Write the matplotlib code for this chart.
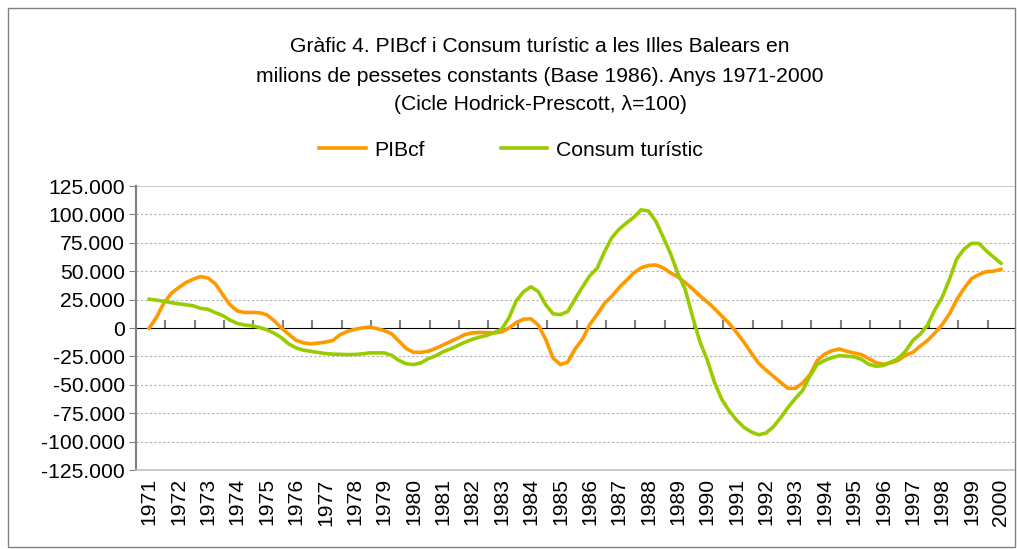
import numpy as np
import matplotlib
matplotlib.use("Agg")
import matplotlib.pyplot as plt
from matplotlib.patches import Rectangle

plt.rcParams['font.family'] = ['Liberation Sans', 'DejaVu Sans']

# Dades trimestrals 1971T1 - 2000T1 (cicle Hodrick-Prescott)
anys = list(range(1971, 2001))
pib = [0, 9500, 22000, 30500,
       35500, 40000, 43000, 45300,
       44000, 39000, 29500, 20500,
       15000, 13700, 13700, 13500,
       11700, 6500, 0, -5500,
       -10800, -13000, -14000, -13300,
       -12400, -11000, -5900, -3000,
       -1200, 0, 900, -500,
       -2300, -5000, -11500, -18000,
       -21400, -21400, -20500, -18000,
       -15000, -12000, -9000, -5800,
       -4300, -3900, -4000, -4300,
       -3500, 0, 4800, 7800,
       8000, 2500, -10000, -26500,
       -32200, -30000, -18500, -10000,
       3000, 12000, 21500, 28000,
       35500, 42000, 48500, 53000,
       55000, 55500, 53000, 48500,
       45000, 40000, 34500, 28300,
       23000, 17000, 10500, 4000,
       -4000, -12500, -22000, -31000,
       -37000, -42400, -48000, -53000,
       -53200, -48500, -41000, -28500,
       -23000, -20000, -18500, -20500,
       -22000, -23400, -27000, -30500,
       -32000, -30700, -28500, -24000,
       -21500, -16000, -11000, -4500,
       3000, 12500, 25000, 35000,
       43500, 47000, 49600, 50000,
       51700]
consum = [25400, 24500, 23500, 22300,
          21300, 20500, 19500, 17300,
          16500, 13500, 11000, 7000,
          4000, 2600, 2000, 500,
          -1500, -4500, -8500, -14000,
          -17500, -19500, -20500, -21500,
          -22500, -23000, -23200, -23400,
          -23300, -22800, -21900, -21900,
          -21900, -24000, -28500, -31500,
          -32200, -30700, -27000, -24500,
          -21000, -18500, -15500, -12500,
          -10000, -8000, -6500, -4000,
          -1000, 9000, 24000, 32000,
          36300, 32000, 20500, 12500,
          11800, 14500, 25500, 36000,
          46000, 52500, 67000, 79500,
          87000, 92500, 97500, 104000,
          103000, 94000, 80000, 65500,
          48000, 34000, 10000, -12000,
          -28000, -48000, -63000, -73000,
          -81000, -87500, -91500, -94000,
          -92500, -87000, -79000, -70000,
          -62000, -55000, -42000, -32000,
          -28500, -26000, -24300, -24800,
          -25400, -27500, -32000, -33700,
          -33000, -30000, -27000, -20500,
          -11000, -5500, 2500, 16000,
          27000, 43000, 61000, 69500,
          74500, 74500, 68000, 62500,
          57000]
t = 1971 + np.arange(len(pib)) / 4.0

fs = 15.2
fig = plt.figure(figsize=(10.17, 5.49), dpi=100)
ax = fig.add_axes([136 / 1017, 1 - 470 / 549, 879 / 1017, 284 / 549])

ax.set_ylim(-125000, 125000)
ax.set_xlim(1970.55, 2000.48)
yt = np.arange(-125000, 125001, 25000)
ax.set_yticks(yt)
ax.set_yticklabels([f"{v:,}".replace(",", ".") for v in yt], fontsize=fs)
for v in yt[1:-1]:
    if v != 0:
        ax.axhline(v, color="#b0b0b0", lw=0.8, ls=(0, (2, 2)), zorder=0)
ax.axhline(125000, color="#c0c0c0", lw=1.2, zorder=0)

ax.plot(t, pib, color="#FF9900", lw=2.6, label="PIBcf", zorder=3)
ax.plot(t, consum, color="#99CC00", lw=2.6, label="Consum turístic", zorder=4)

ax.set_xticks(anys)
ax.set_xticklabels([str(a) for a in anys], rotation=90, fontsize=fs)
ax.tick_params(axis="x", length=0, pad=6)
ax.tick_params(axis="y", length=5, color="#808080", direction="out", pad=3)

for s in ["top", "right"]:
    ax.spines[s].set_visible(False)
ax.spines["left"].set_color("#808080")
ax.spines["left"].set_linewidth(1.5)
ax.spines["bottom"].set_color("#c0c0c0")
ax.spines["bottom"].set_linewidth(1.2)

# eix horitzontal a zero amb marques
sec = ax.secondary_xaxis(0.5)
sec.set_xticks([a + 0.55 for a in anys[:-1]])
sec.set_xticklabels([])
sec.tick_params(length=6, width=1.5, color="#808080", direction="out")
sec.spines["bottom"].set_color("#808080")
sec.spines["bottom"].set_linewidth(1.5)

fig.text(540 / 1017, 1 - 47 / 549, "Gràfic 4. PIBcf i Consum turístic a les Illes Balears en",
         ha="center", va="center", fontsize=fs)
fig.text(540 / 1017, 1 - 76 / 549, "milions de pessetes constants (Base 1986). Anys 1971-2000",
         ha="center", va="center", fontsize=fs)
fig.text(540 / 1017, 1 - 104 / 549, "(Cicle Hodrick-Prescott, λ=100)",
         ha="center", va="center", fontsize=fs)

fig.legend(loc="center", bbox_to_anchor=(511 / 1017, 1 - 150 / 549), ncol=2, frameon=False,
           fontsize=fs, handlelength=2.2, columnspacing=3.6, handletextpad=0.4)

fig.patches.append(Rectangle((8 / 1017, 2 / 549), 1007 / 1017, 539 / 549,
                             transform=fig.transFigure, fill=False,
                             edgecolor="#808080", lw=1))

fig.savefig("out.png", dpi=100)
